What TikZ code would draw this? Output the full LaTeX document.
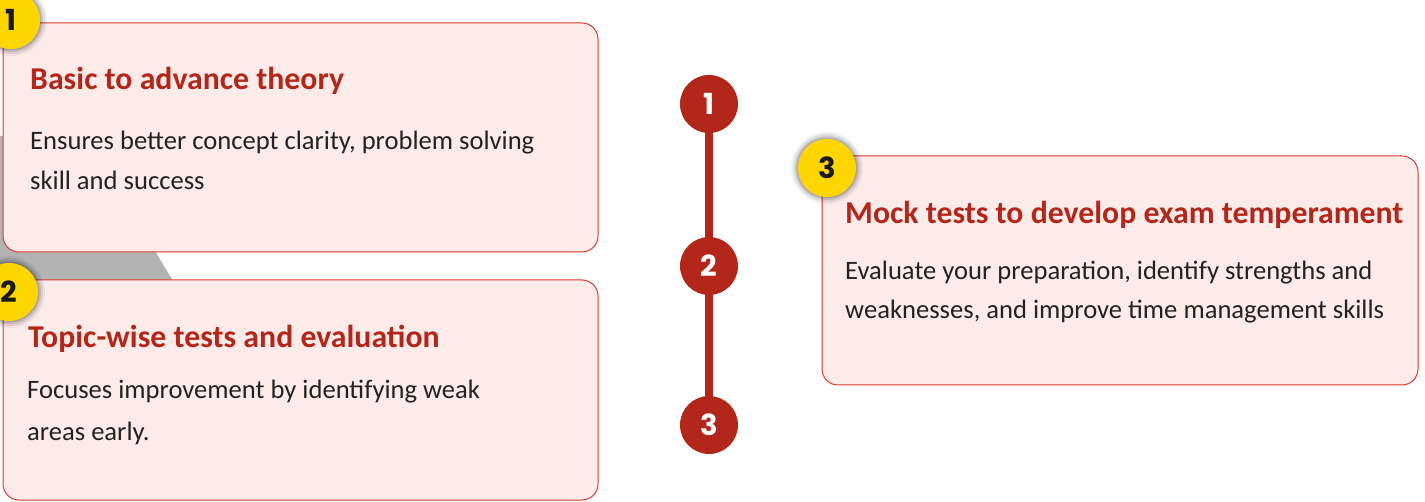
\documentclass[tikz,border=0pt]{standalone}
\usepackage{fontspec}
\setmainfont{Carlito}
\newfontfamily\numfont{Poppins}
\definecolor{boxfill}{HTML}{FDEBEA}
\definecolor{boxline}{HTML}{D93A2B}
\definecolor{titlered}{HTML}{B3261A}
\definecolor{bodytext}{HTML}{222222}
\definecolor{badge}{HTML}{FFD500}
\definecolor{grayband}{HTML}{B3B3B3}
\tikzset{
  card/.style={draw=boxline, line width=1pt, fill=boxfill, rounded corners=16pt},
  cardtitle/.style={anchor=base west, inner sep=0pt, text=titlered, font=\fontsize{31.8}{36}\selectfont\bfseries},
  cardbody/.style={anchor=base west, inner sep=0pt, text=bodytext, font=\fontsize{26.6}{30}\selectfont},
  badge/.style={circle, fill=badge, minimum size=58pt, inner sep=0pt, text=black!90, font=\numfont\fontsize{29}{32}\selectfont\bfseries},
  tlstep/.style={circle, fill=titlered, minimum size=58pt, inner sep=0pt, text=white, font=\numfont\fontsize{29}{32}\selectfont\bfseries},
  tlline/.style={draw=titlered, line width=8pt}
}
\newcommand{\glowat}[1]{%
  \foreach \r/\o in {36/0.05,34/0.08,32/0.1,30.5/0.12}{\fill[black,opacity=\o] (#1) circle (\r pt);}}
\begin{document}
\begin{tikzpicture}[x=1pt,y=-1pt]
\useasboundingbox (0,0) rectangle (1425,502);
% gray band
\fill[grayband] (0,136) -- (86,136) -- (173,281) -- (0,281) -- cycle;
% cards
\draw[card] (3,23) rectangle (598,252);
\draw[card] (3,280) rectangle (598,500);
\draw[card] (822,156) rectangle (1418,385);
% badges
\coordinate (g1) at (11,20);
\coordinate (g2) at (9,292);
\coordinate (g3) at (827,168);
\glowat{g1}\glowat{g2}\glowat{g3}
\node[badge] (b1) at (g1) {1};
\node[badge] (b2) at (g2) {2};
\node[badge] (b3) at (g3) {3};
% card texts
\node[cardtitle] (t1) at (30,90) {Basic to advance theory};
\node[cardbody] (a1) at (30,150) {Ensures better concept clarity, problem solving};
\node[cardbody] (a2) at (30,190) {skill and success};
\node[cardtitle] (t2) at (28,348) {Topic-wise tests and evaluation};
\node[cardbody] (c1) at (27,399) {Focuses improvement by identifying weak};
\node[cardbody] (c2) at (27,441) {areas early.};
\node[cardtitle] (t3) at (845,224) {Mock tests to develop exam temperament};
\node[cardbody] (d1) at (845,280) {Evaluate your preparation, identify strengths and};
\node[cardbody] (d2) at (845,319) {weaknesses, and improve time management skills};
% timeline
\node[tlstep] (s1) at (709,104) {1};
\node[tlstep] (s2) at (709,266) {2};
\node[tlstep] (s3) at (709,425) {3};
\draw[tlline] (s1) -- (s2);
\draw[tlline] (s2) -- (s3);
\end{tikzpicture}
\end{document}
